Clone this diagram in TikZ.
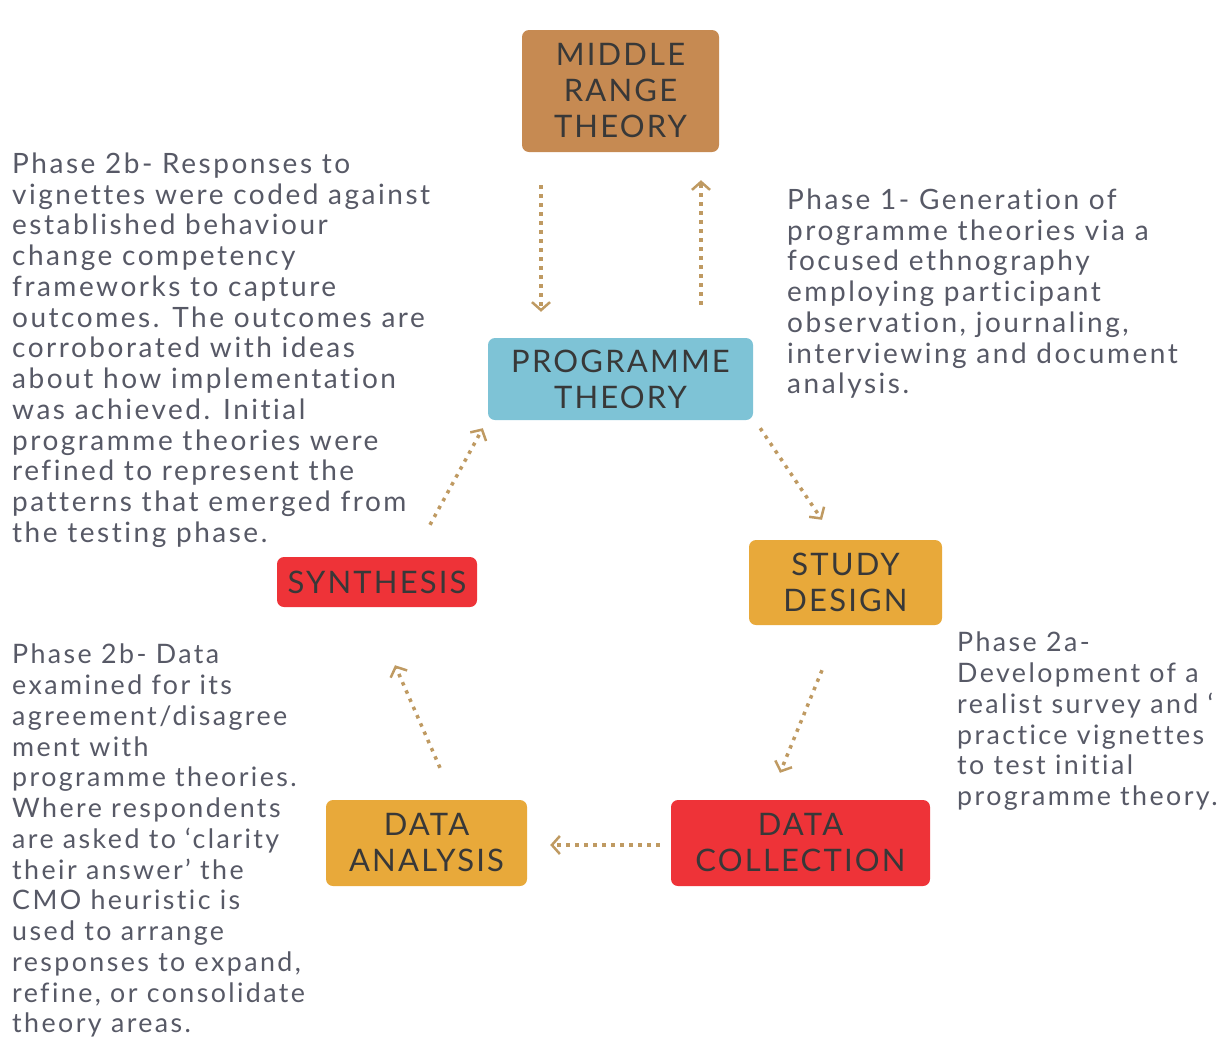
\documentclass[tikz,border=0pt]{standalone}
\usepackage{fontspec}
\setmainfont{Lato}[LetterSpace=9, Ligatures=NoCommon]
\newfontfamily\stagefont{Lato}[LetterSpace=7]
\usepackage{xcolor}
\usetikzlibrary{
    arrows.meta,
    positioning,
    calc
}
\definecolor{mrtbrown}{HTML}{C68A52}
\definecolor{progblue}{HTML}{7EC3D6}
\definecolor{stageamber}{HTML}{E8A93A}
\definecolor{stagered}{HTML}{EE3338}
\definecolor{flowtan}{HTML}{BF9A62}
\definecolor{notegray}{HTML}{575966}

\begin{document}
\begin{tikzpicture}[x=1pt, y=-1pt,
    stage/.style={rectangle, rounded corners=7pt, inner sep=0pt, align=center,
                  text=black!78, font=\stagefont\fontsize{31}{36}\selectfont},
    note/.style={anchor=north west, inner sep=0pt, align=left, text=notegray,
                 font=\fontsize{28}{30.75}\selectfont},
    smallnote/.style={note, font=\fontsize{26.8}{30.75}\selectfont},
    flow/.style={draw=flowtan, line width=3.5pt, dash pattern=on 3.5pt off 5.5pt,
                 -{Straight Barb[length=8pt, width=18pt, line width=2.5pt]}}]
    \useasboundingbox (0,0) rectangle (1217,1039);
    % stages of the cycle
    \node [stage, fill=mrtbrown, minimum width=197pt, minimum height=122pt] (mrt) at (620.5,91) {MIDDLE\\ RANGE\\ THEORY};
    \node [stage, fill=progblue, minimum width=265pt, minimum height=82pt] (prog) at (620.5,379) {PROGRAMME\\ THEORY};
    \node [stage, fill=stageamber, minimum width=193pt, minimum height=85pt] (study) at (845.5,582.5) {STUDY\\ DESIGN};
    \node [stage, fill=stagered, minimum width=259pt, minimum height=86pt] (dcoll) at (800.5,843) {DATA\\ COLLECTION};
    \node [stage, fill=stageamber, minimum width=201pt, minimum height=86pt] (dana) at (426.5,843) {DATA\\ ANALYSIS};
    \node [stage, fill=stagered, minimum width=200pt, minimum height=50pt] (syn) at (377,582) {SYNTHESIS};
    % phase notes
    \node [note] (phaseone) at (787,188.5) {Phase 1- Generation of\\ programme theories via a\\ focused ethnography\\ employing participant\\ observation, journaling,\\ interviewing and document\\ analysis.};
    \node [smallnote] (phasetwoa) at (957,632) {Phase 2a-\\ Development of a\\ realist survey and `\\ practice vignettes\\ to test initial\\ programme theory.};
    \node [note] (phasetwobtop) at (12,152.5) {Phase 2b- Responses to\\ vignettes were coded against\\ established behaviour\\ change competency\\ frameworks to capture\\ outcomes. The outcomes are\\ corroborated with ideas\\ about how implementation\\ was achieved. Initial\\ programme theories were\\ refined to represent the\\ patterns that emerged from\\ the testing phase.};
    \node [smallnote] (phasetwobbot) at (12,644) {Phase 2b- Data\\ examined for its\\ agreement/disagree\\ ment with\\ programme theories.\\ Where respondents\\ are asked to `clarity\\ their answer' the\\ CMO heuristic is\\ used to arrange\\ responses to expand,\\ refine, or consolidate\\ theory areas.};
    % dotted flows
    \draw [flow] ([shift={(-79.5,33)}]mrt.south) -- ([shift={(-79.5,-26)}]prog.north);
    \draw [flow] ([shift={(80.5,-33)}]prog.north) -- ([shift={(80.5,28)}]mrt.south);
    \draw [flow] ([shift={(7,8)}]prog.south east) -- ([shift={(-23.5,-20)}]study.north);
    \draw [flow] ([shift={(-23.5,45)}]study.south) -- ([shift={(-20.5,-27)}]dcoll.north);
    \draw [flow] ([shift={(-11,2)}]dcoll.west) -- ([shift={(23,2)}]dana.east);
    \draw [flow] ([shift={(13.5,-32)}]dana.north) -- ([shift={(18,58)}]syn.south);
    \draw [flow] ([shift={(53,-32)}]syn.north) -- ([shift={(-5,8)}]prog.south west);
\end{tikzpicture}
\end{document}
